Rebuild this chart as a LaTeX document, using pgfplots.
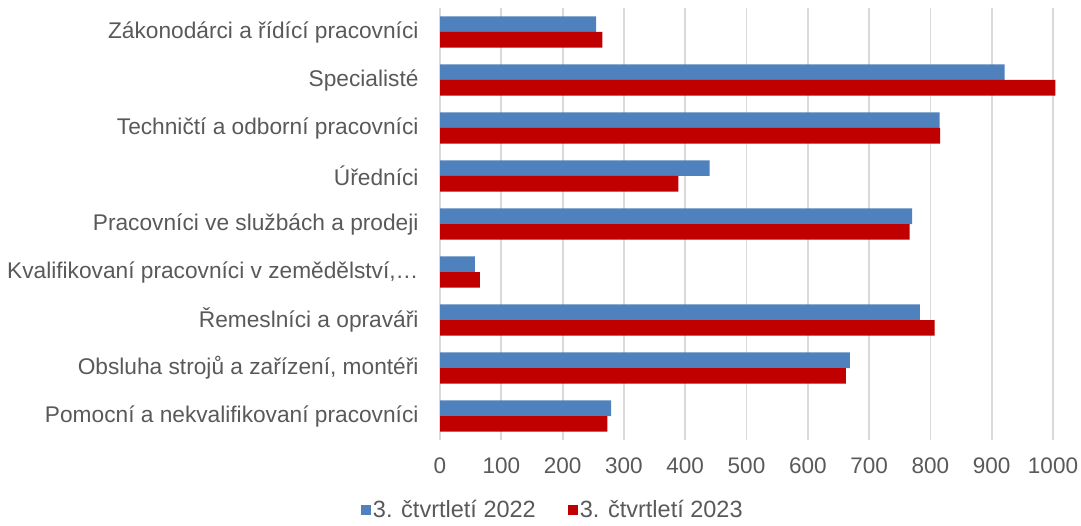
\documentclass[border=0pt]{standalone}
\usepackage{pgfplots}
\pgfplotsset{compat=1.18}
\usepackage{fontspec}
\setmainfont{Liberation Sans}
\definecolor{txt}{HTML}{595959}
\definecolor{gridc}{HTML}{D9D9D9}
\definecolor{s22}{HTML}{4F81BD}
\definecolor{s23}{HTML}{C00000}
\begin{document}
\begin{tikzpicture}
\path[use as bounding box] (0,0) rectangle (1081pt,526pt);
\begin{axis}[
  at={(440pt,86pt)}, anchor=south west,
  scale only axis, width=613pt, height=432pt,
  xbar, bar width=15.6pt,
  xmin=0, xmax=1000, ymin=-0.5, ymax=8.5,
  y dir=reverse, clip=false,
  xtick={0,100,...,1000},
  ytick={0,...,8},
  yticklabels={Zákonodárci a řídící pracovníci, Specialisté, Techničtí a odborní pracovníci, Úředníci, Pracovníci ve službách a prodeji, {Kvalifikovaní pracovníci v zemědělství,…}, Řemeslníci a opraváři, {Obsluha strojů a zařízení, montéři}, Pomocní a nekvalifikovaní pracovníci},
  xmajorgrids, major grid style={gridc, line width=1.8pt},
  axis lines*=left,
  x axis line style={draw=none},
  y axis line style={gridc, line width=1.8pt, -},
  major tick length=0pt,
  tick label style={text=txt},
  xticklabel style={font=\fontsize{22.5}{26}\selectfont, yshift=-14pt},
  yticklabel style={font=\fontsize{22.7}{27}\selectfont, xshift=-18pt},
  /pgf/number format/assume math mode=true,
  /pgf/number format/1000 sep={},
  legend style={at={(0.184,-0.162)}, anchor=center, draw=none, fill=none,
    font=\fontsize{23.5}{27}\selectfont, text=txt, legend columns=2,
    /tikz/every even column/.append style={column sep=30pt}},
  legend image code/.code={\fill[#1] (0pt,-5pt) rectangle (10pt,5pt);},
]
\addplot[draw=none, fill=s22, bar shift=7.8pt] coordinates {(254.5,0) (921,1) (815,2) (440,3) (770,4) (57,5) (783,6) (668.5,7) (279,8)};
\addplot[draw=none, fill=s23, bar shift=-7.8pt] coordinates {(265,0) (1004,1) (816,2) (389,3) (766,4) (65,5) (807,6) (662,7) (273,8)};
\legend{3. čtvrtletí 2022, 3. čtvrtletí 2023}
\end{axis}
\end{tikzpicture}
\end{document}
